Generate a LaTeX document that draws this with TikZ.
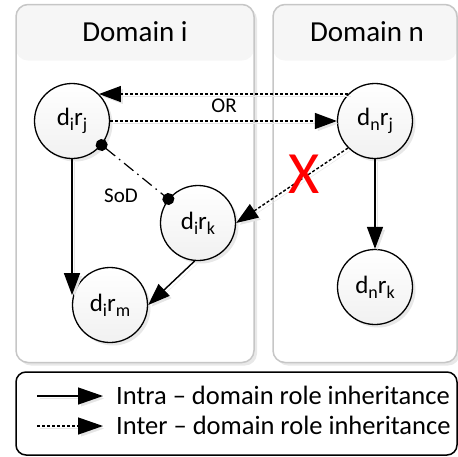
\documentclass[tikz,border=0pt]{standalone}
\usepackage{fontspec}
\setmainfont{Carlito}
\usetikzlibrary{arrows.meta,shadows}

% lowered, reduced index used in the role names
\newcommand\rolesub[1]{\raisebox{-0.2em}{\fontsize{18}{18}\selectfont #1}}

\tikzset{
  softshadow/.style={drop shadow={shadow xshift=3pt, shadow yshift=-3pt, fill=gray!45, opacity=0.4}},
  domainbox/.style={draw=gray!45, line width=1.5pt, rounded corners=12pt, fill=white, softshadow,
    path picture={\fill[gray!7] (path picture bounding box.north west) rectangle ([yshift=-56pt]path picture bounding box.north east);}},
  headtext/.style={font=\fontsize{29}{29}\selectfont},
  role/.style={circle, draw, line width=1.3pt, minimum size=75pt, inner sep=0pt,
    top color=white, bottom color=gray!11, softshadow, font=\fontsize{25}{25}\selectfont},
  lbl/.style={font=\fontsize{21}{21}\selectfont},
  edgeshadow/.style={preaction={draw=gray!20, transform canvas={xshift=2.5pt, yshift=-2.5pt}}},
  headtip/.style={-{Triangle[length=22pt,width=16pt]}},
  legendtip/.style={-{Triangle[length=25pt,width=17pt]}},
  intra/.style={line width=1.4pt, headtip, edgeshadow},
  inter/.style={line width=1.4pt, dash pattern=on 3pt off 2pt, headtip, edgeshadow},
  sod/.style={line width=1.2pt, dash pattern=on 12pt off 5pt on 1.5pt off 5pt,
    {Circle[length=12pt]}-{Circle[length=12pt]}, shorten <=-6pt, shorten >=-6pt},
  legendbox/.style={draw, line width=1.5pt, rounded corners=10pt, fill=white},
  legendtext/.style={font=\fontsize{26.5}{26.5}\selectfont, anchor=west, inner sep=0pt},
}

\begin{document}
\begin{tikzpicture}[x=1pt, y=-1pt]
\useasboundingbox (0,0) rectangle (458,456);

% domain frames with their title bands
\node[domainbox, minimum width=238pt, minimum height=358pt] (domi) at (135,183.5) {};
\node[domainbox, minimum width=184pt, minimum height=358pt] (domn) at (365,183.5) {};
\node[headtext] (domititle) at (135,32) {Domain i};
\node[headtext] (domntitle) at (367,32) {Domain n};

% roles
\node[role] (dirj) at (72,121)  {d\rolesub{i}r\rolesub{j}};
\node[role] (dnrj) at (375,121) {d\rolesub{n}r\rolesub{j}};
\node[role] (dirk) at (198,223) {d\rolesub{i}r\rolesub{k}};
\node[role] (dirm) at (110,305) {d\rolesub{i}r\rolesub{m}};
\node[role] (dnrk) at (375,287) {d\rolesub{n}r\rolesub{k}};

% inter-domain inheritance
\draw[inter] (dnrj.135) -- (dirj.45);
\draw[inter] (dirj.east) -- (dnrj.west);
\node[lbl] (orlabel) at (224,106) {OR};
\draw[inter] (dnrj.225) -- (dirk.east);
\node[text=red, font=\fontsize{60}{60}\selectfont] (cross) at (304,174) {X};

% separation of duty
\draw[sod] (dirj) -- (dirk);
\node[lbl] (sodlabel) at (121,196) {SoD};

% intra-domain inheritance
\draw[intra] (dirj.south) -- (dirj.south |- dirm.165);
\draw[intra] (dirk.265) -- (dirm.east);
\draw[intra] (dnrj.south) -- (dnrk.north);

% legend
\node[legendbox, minimum width=441pt, minimum height=83pt] (legend) at (236.5,413.5) {};
\coordinate (l1a) at (37,396);
\coordinate (l1b) at (103,396);
\coordinate (l2a) at (37,426);
\coordinate (l2b) at (103,426);
\draw[intra, legendtip] (l1a) -- (l1b);
\draw[inter, legendtip] (l2a) -- (l2b);
\node[legendtext] (l1text) at (116,395) {Intra – domain role inheritance};
\node[legendtext] (l2text) at (116,425) {Inter – domain role inheritance};
\end{tikzpicture}
\end{document}
